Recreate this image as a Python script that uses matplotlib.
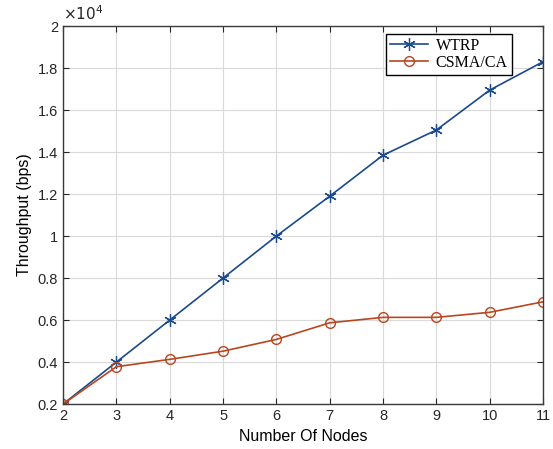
import matplotlib
matplotlib.use('Agg')
import matplotlib.pyplot as plt
from matplotlib.ticker import FuncFormatter
import numpy as np

nodes = [2, 3, 4, 5, 6, 7, 8, 9, 10, 11]
wtrp = [2000, 4000, 6000, 8000, 10000, 11900, 13850, 15050, 16950, 18300]
csma = [2000, 3780, 4130, 4520, 5080, 5870, 6130, 6130, 6370, 6870]

plt.rcParams['font.family'] = ['Liberation Sans', 'DejaVu Sans']

fig = plt.figure(figsize=(5.53, 4.49), dpi=100)
ax = fig.add_axes([0.114, 0.1, 0.868, 0.842])

# MATLAB style asterisk marker
ax.plot(nodes, wtrp, '-', marker=(6, 2, 0), color='#1b4a8c', lw=1.2, ms=9,
        mew=0.9, label='WTRP')
ax.plot(nodes, csma, '-o', color='#b8461f', lw=1.2, ms=7, mfc='none', mew=1.0,
        label='CSMA/CA')

ax.set_xlim(2, 11)
ax.set_ylim(2000, 20000)
ax.set_xticks(nodes)
ax.set_yticks(np.arange(2000, 20001, 2000))
ax.yaxis.set_major_formatter(FuncFormatter(lambda v, p: '%g' % (v / 1e4)))
ax.tick_params(direction='in', top=True, right=True, labelsize=10.5, length=4,
               width=0.8, colors='#262626')
ax.grid(True, color='#d9d9d9', lw=0.8)
for s in ax.spines.values():
    s.set_color('#3a3a3a')
    s.set_linewidth(1.0)

ax.text(0.0, 1.008, r'$\times10^4$', transform=ax.transAxes, fontsize=11,
        ha='left', va='bottom', color='#262626')

ax.set_xlabel('Number Of Nodes', fontsize=11.5, labelpad=4)
ax.set_ylabel('Throughput (bps)', fontsize=11.5, labelpad=4)

leg = ax.legend(loc='upper right', bbox_to_anchor=(0.935, 0.979), borderaxespad=0,
                fancybox=False, edgecolor='black', framealpha=1, borderpad=0.25,
                labelspacing=0.05, handlelength=2.4, handletextpad=0.5,
                prop={'family': 'Liberation Serif', 'size': 11.5})
leg.get_frame().set_linewidth(1.0)

fig.savefig('out.png', dpi=100)
